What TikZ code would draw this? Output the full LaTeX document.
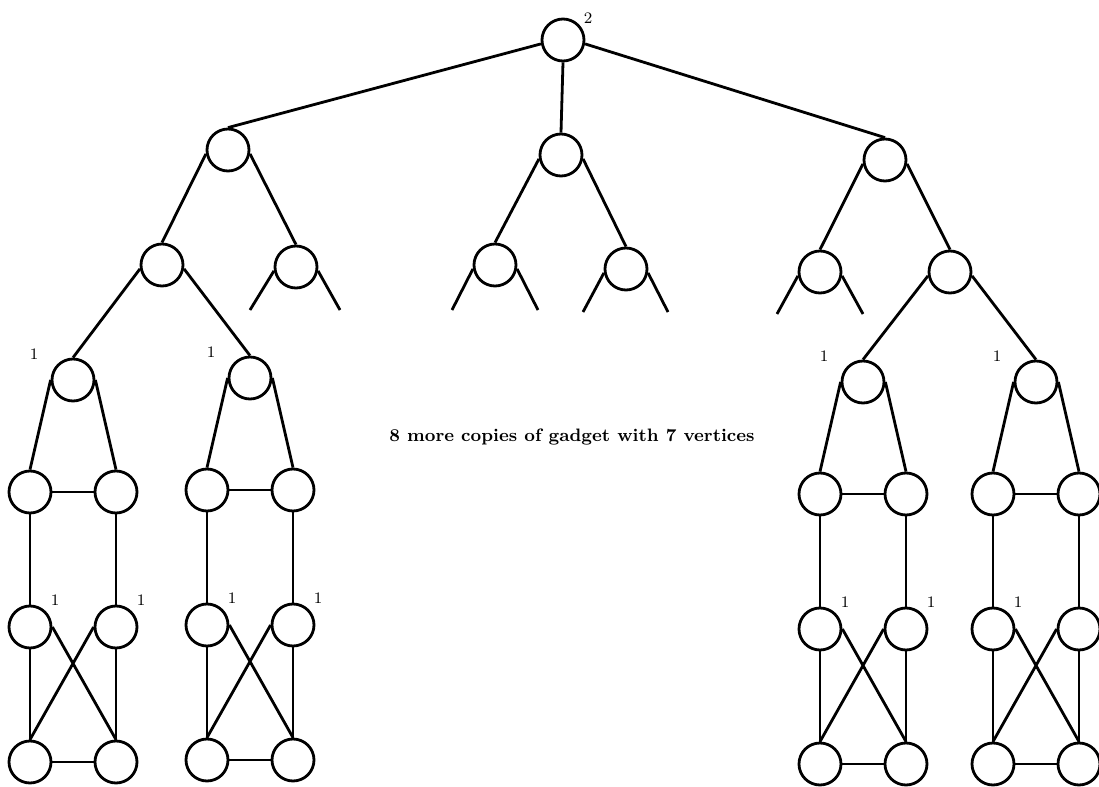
\documentclass[tikz,border=0pt]{standalone}
\usepackage{tikz}

\begin{document}
\begin{tikzpicture}[
    x=0.5pt, y=-0.5pt,
    vertex/.style={
        circle,
        draw=black,
        line width=1.4pt,
        minimum size=21pt,
        inner sep=0pt
    },
    weight/.style={font=\footnotesize, inner sep=1pt},
    edge/.style={line width=1.4pt}
]
\useasboundingbox (0,0) rectangle (1099,787);

% Tree nodes
\node (root) [vertex] at (563,40) {};
\node (L) [vertex] at (228,150) {};
\node (M) [vertex] at (561,155) {};
\node (R) [vertex] at (885,160) {};
\node (LA) [vertex] at (162,265) {};
\node (LB) [vertex] at (296,267) {};
\node (MA) [vertex] at (495,265) {};
\node (MB) [vertex] at (626,269) {};
\node (RA) [vertex] at (820,272) {};
\node (RB) [vertex] at (950,272) {};
\node (wroot) [weight] at (588,18) {2};

% Loose ends
\coordinate (LB1) at (250,310);
\coordinate (LB2) at (340,310);
\coordinate (MA1) at (452,310);
\coordinate (MA2) at (538,310);
\coordinate (MB1) at (583,312);
\coordinate (MB2) at (668,312);
\coordinate (RA1) at (777,314);
\coordinate (RA2) at (863,314);

% Gadgets
\foreach \g/\x/\y in {a/73/380, b/250/378, c/863/382, d/1036/382} {
    \node (\g0) [vertex] at (\x,\y) {};
    \node (\g1) [vertex] at (\x-43,\y+112) {};
    \node (\g2) [vertex] at (\x+43,\y+112) {};
    \node (\g3) [vertex] at (\x-43,\y+247) {};
    \node (\g4) [vertex] at (\x+43,\y+247) {};
    \node (\g5) [vertex] at (\x-43,\y+382) {};
    \node (\g6) [vertex] at (\x+43,\y+382) {};
    \node [weight] at (\x-39,\y-26) {1};
    \draw [edge] (\g0.west) -- (\g1.north);
    \draw [edge] (\g0.east) -- (\g2.north);
    \draw [edge] (\g1) -- (\g2);
    \draw [edge] (\g1) -- (\g3);
    \draw [edge] (\g2) -- (\g4);
    \draw [edge] (\g3) -- (\g5);
    \draw [edge] (\g4) -- (\g6);
    \draw [edge] (\g3.east) -- (\g6.north);
    \draw [edge] (\g4.west) -- (\g5.north);
    \draw [edge] (\g5) -- (\g6);
}
\foreach \n in {a3,a4,b3,b4,c3,c4,d3}
    \node [weight] at ([shift={(25,-27)}]\n) {1};

% Tree edges
\draw [edge] (root.190) -- (L.north);
\draw [edge] (root.south) -- (M.north);
\draw [edge] (root.-10) -- (R.north);
\draw [edge] (L.190) -- (LA.north);
\draw [edge] (L.-10) -- (LB.north);
\draw [edge] (M.190) -- (MA.north);
\draw [edge] (M.-10) -- (MB.north);
\draw [edge] (R.190) -- (RA.north);
\draw [edge] (R.-10) -- (RB.north);
\draw [edge] (LA.190) -- (a0.north);
\draw [edge] (LA.-10) -- (b0.north);
\draw [edge] (RB.190) -- (c0.north);
\draw [edge] (RB.-10) -- (d0.north);
\draw [edge] (LB.190) -- (LB1);
\draw [edge] (LB.-10) -- (LB2);
\draw [edge] (MA.190) -- (MA1);
\draw [edge] (MA.-10) -- (MA2);
\draw [edge] (MB.190) -- (MB1);
\draw [edge] (MB.-10) -- (MB2);
\draw [edge] (RA.190) -- (RA1);
\draw [edge] (RA.-10) -- (RA2);

% Caption
\node (note) [font=\bfseries\small] at (572,437) {8 more copies of gadget with 7 vertices};

\end{tikzpicture}
\end{document}
